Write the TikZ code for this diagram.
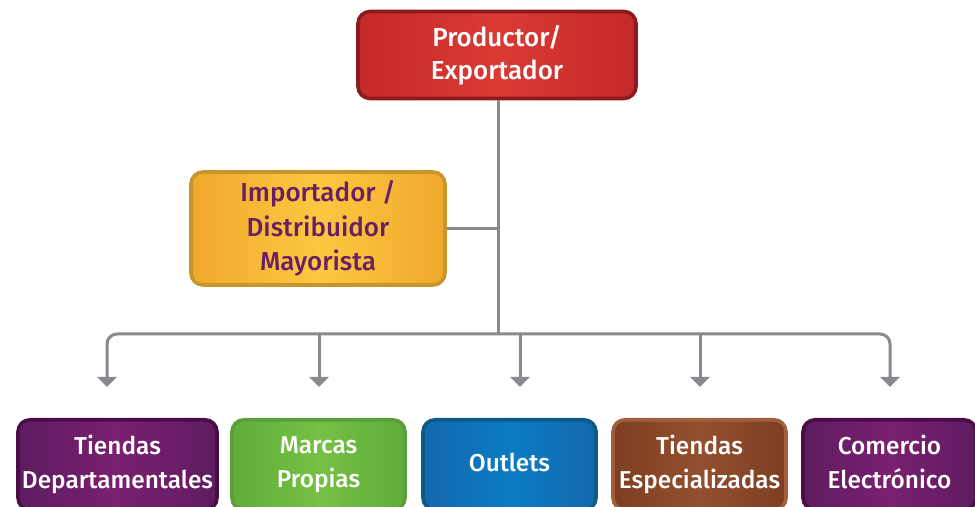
\documentclass[tikz,border=0pt]{standalone}
\usepackage{fontspec}
\setmainfont{Fira Sans}[BoldFont={Fira Sans Medium}]
\usetikzlibrary{arrows.meta}

\definecolor{linea}{HTML}{8A8A8E}
\definecolor{rojoA}{HTML}{C42A2A}
\definecolor{rojoB}{HTML}{DA3A32}
\definecolor{rojoD}{HTML}{8E1A1C}
\definecolor{amaA}{HTML}{F0A82C}
\definecolor{amaB}{HTML}{FCC840}
\definecolor{amaD}{HTML}{C8942C}
\definecolor{morA}{HTML}{5E1C60}
\definecolor{morB}{HTML}{7A2070}
\definecolor{morD}{HTML}{4A0E45}
\definecolor{verA}{HTML}{5EAE3C}
\definecolor{verB}{HTML}{76C043}
\definecolor{verD}{HTML}{5C9E3C}
\definecolor{azuA}{HTML}{1468AC}
\definecolor{azuB}{HTML}{0A7CC4}
\definecolor{azuD}{HTML}{0C5A86}
\definecolor{marA}{HTML}{7E3E22}
\definecolor{marB}{HTML}{92502E}
\definecolor{marD}{HTML}{A0603E}
\definecolor{texto}{HTML}{6A1F65}

\begin{document}
\begin{tikzpicture}[x=0.5pt, y=-0.5pt,
  caja/.style={draw, line width=1.8pt, rounded corners=6pt, inner sep=0pt,
    align=center, text=white, font=\fontsize{13}{16.5}\selectfont\bfseries},
  abajo/.style={caja, anchor=north, minimum width=86.5pt, minimum height=45pt,
    font=\fontsize{12.2}{17}\selectfont\bfseries,
    execute at begin node=\vphantom{d}, execute at end node=\vphantom{p}},
  conn/.style={draw=linea, line width=1.5pt},
  flecha/.style={conn, -{Triangle[width=9.5pt, length=5pt]}}]
  \useasboundingbox (0,0) rectangle (975,507);
  \clip (0,0) rectangle (975,507);
  % cajas de arriba
  \node[caja, draw=rojoD, left color=rojoA, right color=rojoA, middle color=rojoB,
    minimum width=139pt, minimum height=43.5pt] (prod) at (497,55) {Productor/\\Exportador};
  \node[caja, draw=amaD, left color=amaA, right color=amaA, middle color=amaB,
    text=texto, font=\fontsize{13}{17.3}\selectfont\bfseries,
    minimum width=127pt, minimum height=56.5pt] (imp) at (318,228.5) {Importador /\\Distribuidor\\Mayorista};
  % cajas de abajo
  \node[abajo, draw=morD, left color=morA, right color=morA, middle color=morB,
    minimum width=99.5pt] (dep) at (117.5,418) {Tiendas\\Departamentales};
  \node[abajo, draw=verD, left color=verA, right color=verA, middle color=verB] (mar) at (318.5,418) {Marcas\\Propias};
  \node[abajo, draw=azuD, left color=azuA, right color=azuA, middle color=azuB] (out) at (509.5,418) {Outlets};
  \node[abajo, draw=marD, left color=marA, right color=marA, middle color=marB] (esp) at (699.5,418) {Tiendas\\Especializadas};
  \node[abajo, draw=morD, left color=morA, right color=morA, middle color=morB] (com) at (889.5,418) {Comercio\\Electrónico};
  % conectores
  \coordinate (bus) at (498,334);
  \coordinate (f1) at (107,387);
  \coordinate (f2) at (319,387);
  \coordinate (f3) at (520,387);
  \coordinate (f4) at (700,387);
  \coordinate (f5) at (890,387);
  \draw[conn] (prod.south -| bus) -- (bus);
  \draw[conn] (imp.east) -- (imp.east -| bus);
  \draw[flecha, rounded corners=5pt] (bus) -| (f1);
  \draw[flecha, rounded corners=5pt] (bus) -| (f5);
  \draw[flecha] (f2 |- bus) -- (f2);
  \draw[flecha] (f3 |- bus) -- (f3);
  \draw[flecha] (f4 |- bus) -- (f4);
\end{tikzpicture}
\end{document}
